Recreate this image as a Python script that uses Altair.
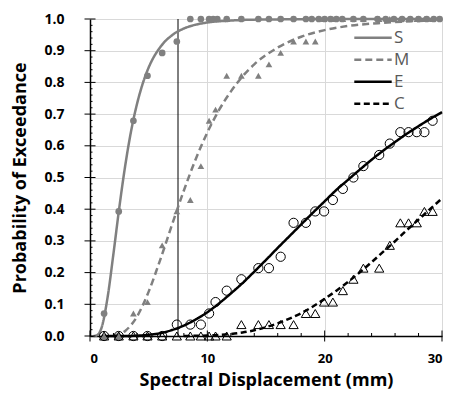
import altair as alt
import pandas as pd

SERIES = ["S", "M", "E", "C"]

# observed points (shared displacement values)
X_PTS = [1.2, 2.45, 3.7, 4.9, 6.15, 7.4, 8.55, 9.45, 10.15, 10.7, 11.65, 12.9, 14.35, 15.25,
         16.25, 17.35, 18.4, 19.2, 19.95, 20.7, 21.55, 22.45, 23.3, 24.65, 25.55, 26.45,
         27.15, 27.85, 28.5, 29.2]
S_PTS_X = [1.2, 2.45, 3.7, 4.9, 6.15, 7.4, 8.55, 9.45, 10.15, 10.5, 10.85, 11.65, 12.9, 14.35,
           15.25, 16.25, 17.35, 18.4, 18.9, 19.5, 20.0, 20.5, 21.0, 21.5, 22.45, 23.3, 24.5,
           25.2, 25.9, 26.6, 27.3, 28.0, 28.7, 29.3, 29.8]
S_PTS_Y = [0.071, 0.393, 0.679, 0.821, 0.893, 0.929, 1, 1, 1, 1, 1, 1, 1, 1,
           1, 1, 1, 1, 1, 1, 1, 1, 1, 1, 1, 1, 1,
           1, 1, 1, 1, 1, 1, 1, 1]
M_PTS_Y = [0, 0, 0.071, 0.107, 0.286, 0.393, 0.429, 0.536, 0.679, 0.714, 0.821, 0.821, 0.821,
           0.857, 0.893, 0.929, 0.929, 0.929, 1, 1, 1, 1, 1, 1, 1, 1, 1, 1, 1, 1]
E_PTS_Y = [0, 0, 0, 0, 0, 0.036, 0.036, 0.036, 0.071, 0.107, 0.143, 0.179, 0.214, 0.214, 0.25,
           0.357, 0.357, 0.393, 0.393, 0.429, 0.464, 0.5, 0.536, 0.571, 0.607, 0.643, 0.643,
           0.643, 0.643, 0.679]
C_PTS_Y = [0, 0, 0, 0, 0, 0, 0, 0, 0, 0, 0, 0.036, 0.036, 0.036, 0.036, 0.036, 0.071, 0.071,
           0.107, 0.107, 0.143, 0.179, 0.214, 0.214, 0.286, 0.357, 0.357, 0.357, 0.393, 0.393]

# fitted curves
S_CX = [0.3, 0.5, 0.8, 1.0, 1.5, 2.0, 2.5, 3.0, 3.5, 4.0, 4.5, 5, 6, 7, 8, 9, 10, 12, 14, 17, 20, 25, 30]
S_CY = [0.0, 0.001, 0.010, 0.028, 0.122, 0.260, 0.406, 0.537, 0.646, 0.731, 0.797, 0.847, 0.912,
        0.949, 0.970, 0.982, 0.989, 0.995, 0.998, 0.999, 1.0, 1.0, 1.0]
M_CX = [2, 3, 4, 5, 6, 7, 8, 9, 10, 11, 12, 13, 14, 16, 18, 20, 22, 25, 28, 30]
M_CY = [0.001, 0.016, 0.061, 0.140, 0.242, 0.352, 0.459, 0.557, 0.642, 0.713, 0.771, 0.819,
        0.857, 0.910, 0.944, 0.965, 0.978, 0.988, 0.994, 0.996]
E_CX = [1, 2, 3, 4, 5, 6, 7, 8, 9, 10, 11, 12, 13, 14, 15, 16, 17, 18, 19, 20, 21, 22, 23, 24,
        25, 26, 27, 28, 29, 30]
E_CY = [0.0, 0.0, 0.0, 0.001, 0.004, 0.009, 0.019, 0.033, 0.052, 0.075, 0.103, 0.134, 0.167,
        0.203, 0.240, 0.278, 0.315, 0.352, 0.389, 0.425, 0.461, 0.493, 0.525, 0.556, 0.585,
        0.612, 0.638, 0.662, 0.685, 0.706]
C_CX = [8, 9, 10, 11, 12, 13, 14, 15, 16, 17, 18, 19, 20, 21, 22, 23, 24, 25, 26, 27, 28, 29, 30]
C_CY = [0.0002, 0.0006, 0.0016, 0.0034, 0.0065, 0.011, 0.018, 0.028, 0.040, 0.055, 0.072,
        0.093, 0.117, 0.143, 0.171, 0.201, 0.233, 0.266, 0.299, 0.334, 0.367, 0.401, 0.434]

THRESHOLD_X = [7.5]
X_MAJOR = [0, 10, 20, 30]
X_MINOR = [2, 4, 6, 8, 12, 14, 16, 18, 22, 24, 26, 28]
Y_MAJOR = [0.0, 0.1, 0.2, 0.3, 0.4, 0.5, 0.6, 0.7, 0.8, 0.9, 1.0]
Y_MINOR = [0.02, 0.04, 0.06, 0.08, 0.12, 0.14, 0.16, 0.18, 0.22, 0.24, 0.26, 0.28,
           0.32, 0.34, 0.36, 0.38, 0.42, 0.44, 0.46, 0.48, 0.52, 0.54, 0.56, 0.58,
           0.62, 0.64, 0.66, 0.68, 0.72, 0.74, 0.76, 0.78, 0.82, 0.84, 0.86, 0.88,
           0.92, 0.94, 0.96, 0.98]

GREY = "#808080"
FONT = "Open Sans"

curves = pd.concat([
    pd.DataFrame({"x": S_CX, "y": S_CY, "series": "S"}),
    pd.DataFrame({"x": M_CX, "y": M_CY, "series": "M"}),
    pd.DataFrame({"x": E_CX, "y": E_CY, "series": "E"}),
    pd.DataFrame({"x": C_CX, "y": C_CY, "series": "C"}),
])

xs = alt.Scale(domain=[0, 30], nice=False, zero=False)
ys = alt.Scale(domain=[0, 1], nice=False)

x_axis = alt.Axis(values=X_MAJOR, title="Spectral Displacement (mm)", ticks=False,
                  labelFont=FONT, labelFontWeight="bold", labelFontSize=13, labelColor="black",
                  labelPadding=16, titleFont=FONT, titleFontWeight="bold", titleFontSize=18,
                  titleColor="black", titlePadding=6, grid=True, gridColor="#d9d9d9",
                  domainColor="black", domainWidth=1.5, labelOverlap=False)
y_axis = alt.Axis(values=Y_MAJOR, format=".1f", title="Probability of Exceedance", ticks=False,
                  labelFont=FONT, labelFontWeight="bold", labelFontSize=14, labelColor="black",
                  labelPadding=26, titleFont=FONT, titleFontWeight="bold", titleFontSize=18,
                  titleColor="black", titlePadding=14, grid=True, gridColor="#d9d9d9",
                  domainColor="black", domainWidth=1.5, labelOverlap=False)

X_ENC = alt.X("x:Q", scale=xs, axis=x_axis)
Y_ENC = alt.Y("y:Q", scale=ys, axis=y_axis)
X_ZERO = alt.XDatum(0, scale=xs, axis=x_axis)
Y_ZERO = alt.YDatum(0, scale=ys, axis=y_axis)

thr = alt.Chart(pd.DataFrame({"x": THRESHOLD_X})).mark_rule(color="black", strokeWidth=1).encode(
    x=X_ENC
)

color_scale = alt.Scale(domain=SERIES, range=[GREY, GREY, "black", "black"])
dash_scale = alt.Scale(domain=SERIES, range=[[1, 0], [7, 4], [1, 0], [6, 3.5]])

legend = alt.Legend(title=None, orient="none", legendX=263, legendY=8, symbolType="stroke",
                    symbolStrokeWidth=2.5, symbolSize=1400, labelFont=FONT, labelFontSize=17,
                    labelColor="#595959", padding=0, rowPadding=0, clipHeight=21.7,
                    labelOffset=1, labelOverlap=False)

lines = alt.Chart(curves).mark_line(strokeWidth=2.5, interpolate="monotone").encode(
    x=X_ENC,
    y=Y_ENC,
    color=alt.Color("series:N", scale=color_scale, legend=legend),
    strokeDash=alt.StrokeDash("series:N", scale=dash_scale, legend=legend),
    detail="series:N",
)


def pts(xv, yv, shape, filled, size, color):
    return alt.Chart(pd.DataFrame({"x": xv, "y": yv})).mark_point(
        shape=shape, filled=filled, size=size, opacity=1, color=color, strokeWidth=1
    ).encode(x=X_ENC, y=Y_ENC)


pts_s = pts(S_PTS_X, S_PTS_Y, "circle", True, 45, GREY)
pts_m = pts(X_PTS, M_PTS_Y, "triangle-up", True, 45, GREY)
pts_e = pts(X_PTS, E_PTS_Y, "circle", False, 85, "black")
pts_c = pts(X_PTS, C_PTS_Y, "triangle-up", False, 85, "black")

xmaj = alt.Chart(pd.DataFrame({"x": X_MAJOR})).mark_point(
    shape="M 0 -1 L 0 1", size=121, filled=False, color="black", strokeWidth=1, opacity=1
).encode(x=X_ENC, y=Y_ZERO)
xmin = alt.Chart(pd.DataFrame({"x": X_MINOR})).mark_point(
    shape="M 0 0 L 0 -1", size=36, filled=False, color="black", strokeWidth=1, opacity=1
).encode(x=X_ENC, y=Y_ZERO)
ymaj = alt.Chart(pd.DataFrame({"y": Y_MAJOR})).mark_point(
    shape="M -1 0 L 1 0", size=121, filled=False, color="black", strokeWidth=1, opacity=1
).encode(y=Y_ENC, x=X_ZERO)
ymin = alt.Chart(pd.DataFrame({"y": Y_MINOR})).mark_point(
    shape="M 0 0 L 1 0", size=25, filled=False, color="black", strokeWidth=1, opacity=1
).encode(y=Y_ENC, x=X_ZERO)

chart = alt.layer(thr, lines, pts_s, pts_m, pts_e, pts_c, xmaj, xmin, ymaj, ymin).properties(
    width=352, height=317,
    autosize=alt.AutoSizeParams(type="none"),
    padding={"left": 82, "top": 11, "right": 3, "bottom": 55},
).configure_view(stroke="black", strokeWidth=1).configure(background="white")

chart.save("out.html", embed_options={"renderer": "svg", "actions": False})
